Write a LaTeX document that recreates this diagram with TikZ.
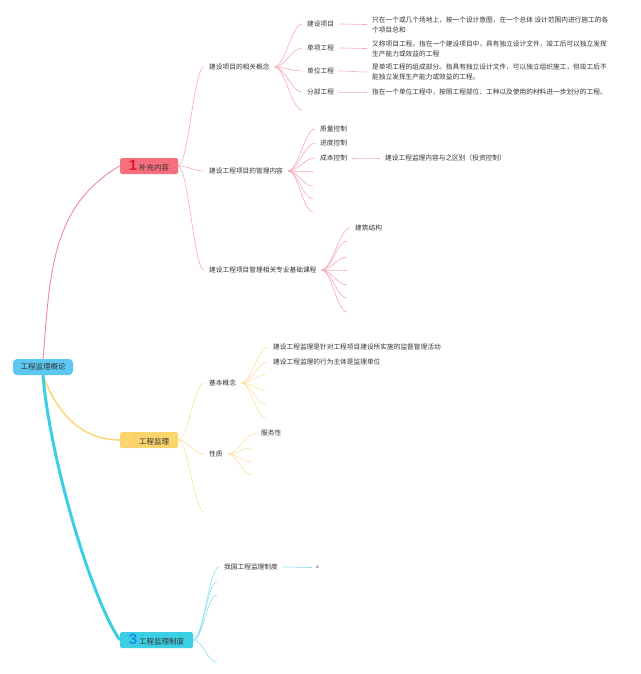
\documentclass[tikz,border=0pt]{standalone}
\usepackage{fontspec}
\newfontfamily\cjk{Noto Sans CJK SC}
\newfontfamily\numf{Liberation Sans}
\usetikzlibrary{positioning}

\definecolor{txt}{HTML}{333333}
\definecolor{rootc}{HTML}{5CC8F2}
\definecolor{redc}{HTML}{F76E7D}
\definecolor{redn}{HTML}{D91A35}
\definecolor{redl}{HTML}{F08A9A}
\definecolor{redll}{HTML}{F7AAB7}
\definecolor{yelc}{HTML}{FAD46C}
\definecolor{yeln}{HTML}{F9D066}
\definecolor{yell}{HTML}{F9D97A}
\definecolor{yelll}{HTML}{FBE2A4}
\definecolor{cyac}{HTML}{3CCFE4}
\definecolor{cyan}{HTML}{1A8FE0}
\definecolor{cyall}{HTML}{8ADFEA}

\begin{document}
\begin{tikzpicture}
	[x=1pt,y=-1pt,
	topic/.style={inner sep=0pt,minimum height=16pt,rounded corners=1.5pt,text=txt,font=\cjk\fontsize{7.5}{9}\selectfont},
	sub/.style={anchor=west,inner xsep=5pt,inner ysep=2pt,text=txt,align=left,font=\cjk\fontsize{6.7}{10}\selectfont},
	br/.style={to path={.. controls +(10,0) and +(-10,0) .. (\tikztotarget)}},
	rl/.style={br,draw=redll,line width=.6pt},
	yl/.style={br,draw=yelll,line width=.6pt},
	cl/.style={br,draw=cyall,line width=.6pt}]
	\useasboundingbox (0,0) rectangle (640,674);
	
	% main topics
	\node[topic,fill=rootc,rounded corners=4pt,minimum width=60pt] (r) at (43,367) {工程监理概论};
	\node[topic,fill=redc,minimum width=58pt] (b1) at (149,166) {\textcolor{redn}{\numf\bfseries\fontsize{15}{15}\selectfont 1}\hspace{2pt}补充内容};
	\node[topic,fill=yelc,minimum width=58pt] (b2) at (149,440) {\textcolor{yeln}{\numf\bfseries\fontsize{15}{15}\selectfont 2}\hspace{2pt}工程监理};
	\node[topic,fill=cyac,minimum width=73pt] (b3) at (156.5,640) {\textcolor{cyan}{\numf\bfseries\fontsize{15}{15}\selectfont 3}\hspace{2pt}工程监理制度};
	
	\draw[draw=redl,line width=.9pt] (r.north) to[out=85,in=210] (b1.west);
	\draw[draw=yell,line width=1.6pt] (r.south) to[out=-70,in=180] (b2.west);
	\draw[draw=cyac,line width=3pt] (r.south) .. controls (50,460) and (92,600) .. (b3.west);
	
	% 1 补充内容
	\node[sub] (c1) at (204,67) {建设项目的相关概念};
	\node[sub] (c2) at (204,171) {建设工程项目的管理内容};
	\node[sub] (c3) at (204,270) {建设工程项目管理相关专业基础课程};
	\draw[rl] (b1.east) to (c1.west);
	\draw[rl] (b1.east) to (c2.west);
	\draw[rl] (b1.east) to (c3.west);
	
	\node[sub] (d1) at (302,24) {建设项目};
	\node[sub] (d2) at (302,48) {单项工程};
	\node[sub] (d3) at (302,71) {单位工程};
	\node[sub] (d4) at (302,92) {分部工程};
	\coordinate (d5) at (302,110);
	\draw[rl] (c1.east) to (d1.west);
	\draw[rl] (c1.east) to (d2.west);
	\draw[rl] (c1.east) to (d3.west);
	\draw[rl] (c1.east) to (d4.west);
	\draw[rl] (c1.east) to (d5);
	
	\node[sub] (e1) at (367,24.5) {只在一个或几个场地上，按一个设计意图，在一个总体 设计范围内进行施工的各\\个项目总和};
	\node[sub] (e2) at (367,48.5) {又称项目工程。指在一个建设项目中，具有独立设计文件，竣工后可以独立发挥\\生产能力或效益的工程};
	\node[sub] (e3) at (367,72) {是单项工程的组成部分。指具有独立设计文件，可以独立组织施工，但竣工后不\\能独立发挥生产能力或效益的工程。};
	\node[sub] (e4) at (367,92) {指在一个单位工程中，按照工程部位、工种以及使用的材料进一步划分的工程。};
	\draw[rl] (d1.east) to (e1.west);
	\draw[rl] (d2.east) to (e2.west);
	\draw[rl] (d3.east) to (e3.west);
	\draw[rl] (d4.east) to (e4.west);
	
	\node[sub] (m1) at (315,129) {质量控制};
	\node[sub] (m2) at (315,143) {进度控制};
	\node[sub] (m3) at (315,158) {成本控制};
	\coordinate (m4) at (313,171);
	\coordinate (m5) at (313,186);
	\coordinate (m6) at (313,199);
	\coordinate (m7) at (313,212);
	\draw[rl] (c2.east) to (m1.west);
	\draw[rl] (c2.east) to (m2.west);
	\draw[rl] (c2.east) to (m3.west);
	\draw[rl] (c2.east) to (m4);
	\draw[rl] (c2.east) to (m5);
	\draw[rl] (c2.east) to (m6);
	\draw[rl] (c2.east) to (m7);
	
	\node[sub] (n1) at (380,158) {建设工程监理内容与之区别（投资控制）};
	\draw[rl] (m3.east) to (n1.west);
	
	\node[sub] (k1) at (350,228) {建筑结构};
	\coordinate (k2) at (347,241);
	\coordinate (k3) at (347,257);
	\coordinate (k4) at (347,270);
	\coordinate (k5) at (347,285);
	\coordinate (k6) at (347,298);
	\coordinate (k7) at (347,312);
	\draw[rl] (c3.east) to (k1.west);
	\draw[rl] (c3.east) to (k2);
	\draw[rl] (c3.east) to (k3);
	\draw[rl] (c3.east) to (k4);
	\draw[rl] (c3.east) to (k5);
	\draw[rl] (c3.east) to (k6);
	\draw[rl] (c3.east) to (k7);
	
	% 2 工程监理
	\node[sub] (y1) at (204,383) {基本概念};
	\node[sub] (y2) at (204,454) {性质};
	\coordinate (y3) at (204,512);
	\draw[yl] (b2.east) to (y1.west);
	\draw[yl] (b2.east) to (y2.west);
	\draw[yl] (b2.east) to (y3);
	
	\node[sub] (s1) at (268,347) {建设工程监理是针对工程项目建设所实施的监督管理活动};
	\node[sub] (s2) at (268,362) {建设工程监理的行为主体是监理单位};
	\coordinate (s3) at (266,375);
	\coordinate (s4) at (266,390);
	\coordinate (s5) at (266,404);
	\coordinate (s6) at (266,418);
	\draw[yl] (y1.east) to (s1.west);
	\draw[yl] (y1.east) to (s2.west);
	\draw[yl] (y1.east) to (s3);
	\draw[yl] (y1.east) to (s4);
	\draw[yl] (y1.east) to (s5);
	\draw[yl] (y1.east) to (s6);
	
	\node[sub] (p1) at (256,433) {服务性};
	\coordinate (p2) at (252,448);
	\coordinate (p3) at (252,462);
	\coordinate (p4) at (252,475);
	\draw[yl] (y2.east) to (p1.west);
	\draw[yl] (y2.east) to (p2);
	\draw[yl] (y2.east) to (p3);
	\draw[yl] (y2.east) to (p4);
	
	% 3 工程监理制度
	\node[sub] (t1) at (219,567) {我国工程监理制度};
	\coordinate (t2) at (217,582);
	\coordinate (t3) at (217,595);
	\coordinate (t4) at (217,662);
	\draw[cl] (b3.east) to (t1.west);
	\draw[cl] (b3.east) to (t2);
	\draw[cl] (b3.east) to (t3);
	\draw[cl] (b3.east) to (t4);
	
	\node[sub,inner xsep=4pt,font=\cjk\fontsize{4.5}{5}\selectfont] (q1) at (312,567.5) {a};
	\draw[cl] (t1.east) to (q1.west);
\end{tikzpicture}
\end{document}
